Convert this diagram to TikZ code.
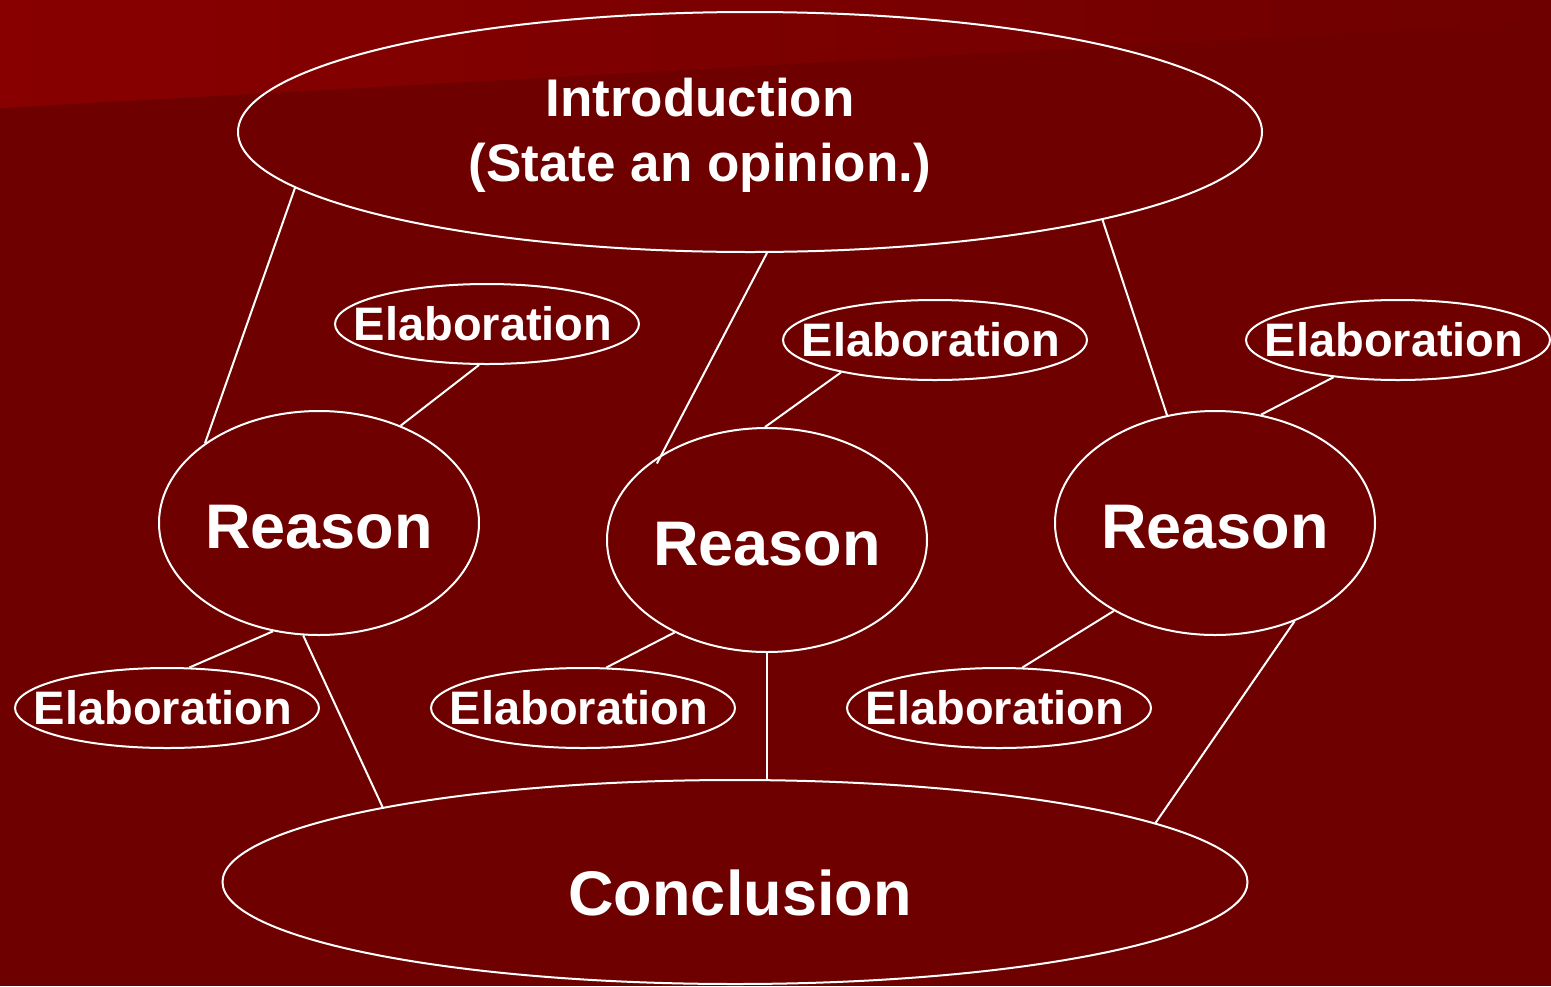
\documentclass[tikz,border=0pt]{standalone}
\usepackage{fontspec}
\setmainfont{Liberation Sans}
\usetikzlibrary{shapes.geometric}

\begin{document}
\begin{tikzpicture}[x=1pt,y=-1pt,
    bubble/.style={ellipse, draw=white, line width=2pt, inner sep=0pt},
    link/.style={draw=white, line width=2pt},
    bigtext/.style={text=white, font=\bfseries\fontsize{63}{70}\selectfont},
    introtext/.style={text=white, align=center, font=\bfseries\fontsize{53}{65}\selectfont},
    elabtext/.style={text=white, font=\bfseries\fontsize{47}{52}\selectfont},
    reason/.style={bubble, minimum width=320pt, minimum height=224pt,
        label={[bigtext, yshift=-4pt]center:Reason}},
    elab/.style={bubble, minimum width=304pt, minimum height=80pt,
        label={[elabtext, xshift=-4pt]center:Elaboration}}]

    % Colors for the background
    \definecolor{bgdark}{RGB}{111,0,0}
    \definecolor{bglight}{RGB}{136,0,0}

    % Background
    \useasboundingbox (0,0) rectangle (1551,986);
    \fill[bgdark] (0,0) rectangle (1551,986);
    \shade[left color=bglight, right color=bgdark] (0,0) -- (0,108) -- (1551,22) -- (1551,0) -- cycle;

    % Introduction
    \node[bubble, minimum width=1024pt, minimum height=240pt,
        label={[introtext, xshift=-50pt, yshift=-3pt]center:{Introduction\\(State an opinion.)}}] (intro) at (750,132) {};

    % Reasons
    \node[reason] (reasonA) at (319,523) {};
    \node[reason] (reasonB) at (767,540) {};
    \node[reason] (reasonC) at (1215,523) {};

    % Elaborations above
    \node[elab] (elabA) at (487,324) {};
    \node[elab] (elabB) at (935,340) {};
    \node[elab] (elabC) at (1398,340) {};

    % Elaborations below
    \node[elab] (elabD) at (167,708) {};
    \node[elab] (elabE) at (583,708) {};
    \node[elab] (elabF) at (999,708) {};

    % Conclusion
    \node[bubble, minimum width=1025pt, minimum height=204pt,
        label={[bigtext, xshift=5pt, yshift=-11pt]center:Conclusion}] (concl) at (735,882) {};

    % Links
    \draw[link] (intro.187) -- (reasonA.145);
    \draw[link, shorten >=-10pt] (intro.278) -- (reasonB.141);
    \draw[link] (intro.346) -- (reasonC.114);
    \draw[link] (elabA.259) -- (reasonA.50);
    \draw[link] (elabB.199) -- (reasonB.91);
    \draw[link] (elabC.210) -- (reasonC.67);
    \draw[link] (reasonA.247) -- (elabD.61);
    \draw[link] (reasonA.262) -- (concl.168);
    \draw[link] (reasonB.225) -- (elabE.60);
    \draw[link] (reasonB.south) -- (reasonB.south |- concl.north);
    \draw[link] (reasonC.221) -- (elabF.60);
    \draw[link] (reasonC.309) -- (concl.8);

\end{tikzpicture}
\end{document}
